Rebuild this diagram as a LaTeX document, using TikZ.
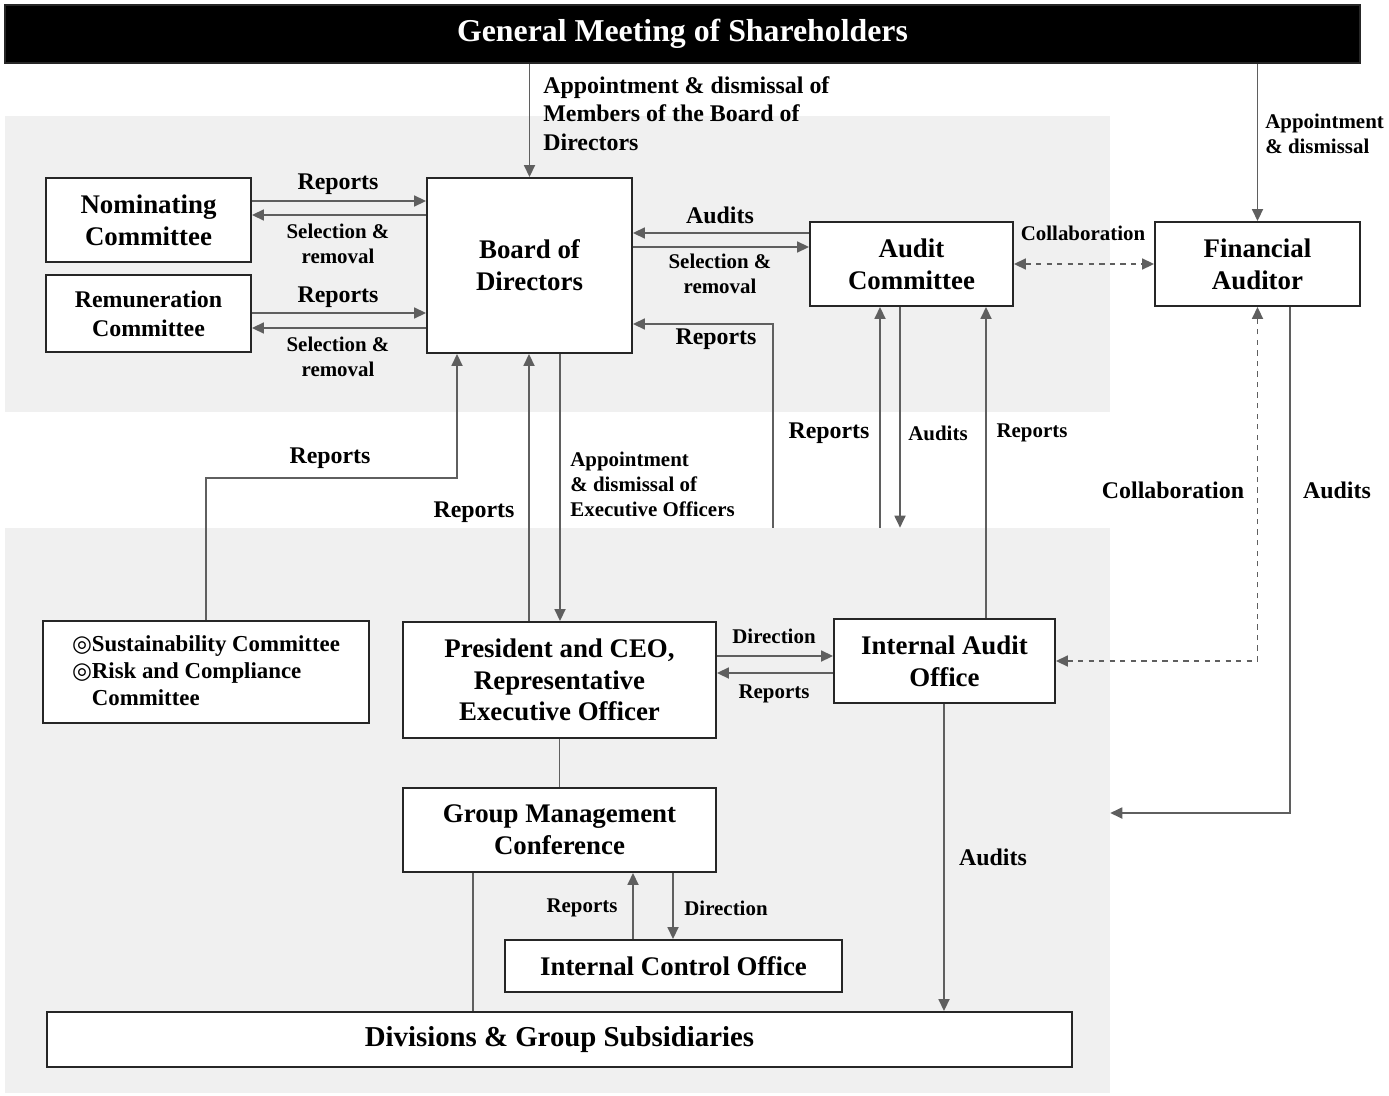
\documentclass[tikz,border=0pt]{standalone}
\usepackage{fontspec}
\setmainfont{Liberation Serif}
\newfontfamily\symfont{DejaVu Sans}
\usetikzlibrary{arrows.meta}
\definecolor{linegray}{HTML}{5F5F5F}
\definecolor{zonegray}{HTML}{F0F0F0}
\begin{document}
\begin{tikzpicture}[x=0.02cm, y=-0.02cm, >={Triangle[length=0.24cm,width=0.22cm]},
    box/.style={draw=black!85, line width=1.1pt, fill=white, align=center, inner sep=0pt,
      font=\bfseries\fontsize{15.3}{18.1}\selectfont},
    zone/.style={fill=zonegray, inner sep=0pt},
    link/.style={color=linegray, line width=1pt},
    lab/.style={inner sep=0pt, align=center, font=\bfseries\fontsize{13.6}{16.4}\selectfont},
    slab/.style={inner sep=0pt, align=center, font=\bfseries\fontsize{11.9}{14.2}\selectfont}]
    \useasboundingbox (0,0) rectangle (1389,1095);

    % shaded areas
    \node[zone, minimum width=22.1cm, minimum height=5.92cm] (upper) at (557.5,264) {};
    \node[zone, minimum width=22.1cm, minimum height=11.3cm] (lower) at (557.5,810.5) {};

    % boxes
    \node[box, fill=black, text=white, minimum width=27.1cm, minimum height=1.16cm,
      font=\bfseries\fontsize{18.1}{21}\selectfont] (gm) at (682.5,34) {General Meeting of Shareholders};
    \node[box, minimum width=4.1cm, minimum height=1.68cm] (nom) at (148.5,220) {Nominating\\Committee};
    \node[box, minimum width=4.1cm, minimum height=1.54cm,
      font=\bfseries\fontsize{13.6}{16.4}\selectfont] (rem) at (148.5,313.5) {Remuneration\\Committee};
    \node[box, minimum width=4.1cm, minimum height=3.5cm] (board) at (529.5,265.5) {Board of\\Directors};
    \node[box, minimum width=4.06cm, minimum height=1.68cm] (audit) at (911.5,264) {Audit\\Committee};
    \node[box, minimum width=4.1cm, minimum height=1.68cm] (fin) at (1257.5,264) {Financial\\Auditor};
    \node[box, align=left, minimum width=6.52cm, minimum height=2.04cm,
      font=\bfseries\fontsize{13}{15.6}\selectfont] (sus) at (206,672)
      {{\symfont ◎}Sustainability Committee\\{\symfont ◎}Risk and Compliance\\\phantom{\symfont ◎}Committee};
    \node[box, minimum width=6.26cm, minimum height=2.32cm] (pres) at (559.5,680)
      {President and CEO,\\Representative\\Executive Officer};
    \node[box, minimum width=4.42cm, minimum height=1.68cm] (iao) at (944.5,661) {Internal Audit\\Office};
    \node[box, minimum width=6.26cm, minimum height=1.68cm] (gmc) at (559.5,830) {Group Management\\Conference};
    \node[box, minimum width=6.74cm, minimum height=1.04cm] (ico) at (673.5,966) {Internal Control Office};
    \node[box, minimum width=20.5cm, minimum height=1.1cm,
      font=\bfseries\fontsize{16.4}{19}\selectfont] (div) at (559.5,1039.5) {Divisions \& Group Subsidiaries};

    % connectors
    \draw[link,->] (gm.south -| board) -- (board.north);
    \draw[link,->] (gm.south -| fin) -- (fin.north);
    \draw[link,->] (nom.east |- 0,201) -- (board.west |- 0,201);
    \draw[link,->] (board.west |- 0,215) -- (nom.east |- 0,215);
    \draw[link,->] (rem.east |- 0,313) -- (board.west |- 0,313);
    \draw[link,->] (board.west |- 0,328) -- (rem.east |- 0,328);
    \draw[link,->] (audit.west |- 0,233) -- (board.east |- 0,233);
    \draw[link,->] (board.east |- 0,247) -- (audit.west |- 0,247);
    \draw[link,<->,dashed] (audit.east) -- (fin.west);
    \draw[link,->] (773,0 |- lower.north) |- (board.east |- 0,324);
    \draw[link,->] (lower.north -| 880,0) -- (audit.south -| 880,0);
    \draw[link,->] (audit.south -| 900,0) -- (lower.north -| 900,0);
    \draw[link,->] (iao.north -| 986,0) -- (audit.south -| 986,0);
    \draw[link,<->,dashed] (iao.east) -| (fin.south);
    \draw[link,->] (fin.south -| 1290,0) |- (lower.east |- 0,813);
    \draw[link,->] (sus.north) |- (457,478) -- (board.south -| 457,0);
    \draw[link,->] (pres.north -| 529,0) -- (board.south -| 529,0);
    \draw[link,->] (board.south -| 560,0) -- (pres.north -| 560,0);
    \draw[link,->] (pres.east |- 0,656) -- (iao.west |- 0,656);
    \draw[link,->] (iao.west |- 0,673) -- (pres.east |- 0,673);
    \draw[link] (pres.south) -- (gmc.north);
    \draw[link] (gmc.south -| 473,0) -- (div.north -| 473,0);
    \draw[link,->] (ico.north -| 633,0) -- (gmc.south -| 633,0);
    \draw[link,->] (gmc.south -| 673,0) -- (ico.north -| 673,0);
    \draw[link,->] (iao.south -| 944,0) -- (div.north -| 944,0);

    % labels
    \node[lab, align=left, anchor=north west] (l-apbod) at (543,76)
      {Appointment \& dismissal of\\Members of the Board of\\Directors};
    \node[slab, align=left, anchor=north west] (l-apfin) at (1265,114) {Appointment\\\& dismissal};
    \node[lab] (l-rep1) at (338,184) {Reports};
    \node[slab] (l-sel1) at (338,244) {Selection \&\\removal};
    \node[lab] (l-rep2) at (338,297) {Reports};
    \node[slab] (l-sel2) at (338,357) {Selection \&\\removal};
    \node[lab] (l-aud1) at (720,215) {Audits};
    \node[slab] (l-sel3) at (720,274) {Selection \&\\removal};
    \node[slab] (l-col1) at (1083,233) {Collaboration};
    \node[lab] (l-rep3) at (716,339) {Reports};
    \node[lab] (l-rep4) at (829,433) {Reports};
    \node[slab] (l-aud2) at (938,433) {Audits};
    \node[slab] (l-rep5) at (1032,433) {Reports};
    \node[lab] (l-col2) at (1173,490) {Collaboration};
    \node[lab] (l-aud3) at (1337,490) {Audits};
    \node[lab] (l-rep6) at (330,458) {Reports};
    \node[lab] (l-rep7) at (474,512) {Reports};
    \node[slab, align=left, anchor=north west] (l-apexe) at (570,452)
      {Appointment\\\& dismissal of\\Executive Officers};
    \node[slab] (l-dir1) at (774,636) {Direction};
    \node[slab] (l-rep8) at (774,694) {Reports};
    \node[slab] (l-rep9) at (582,908) {Reports};
    \node[slab] (l-dir2) at (726,908) {Direction};
    \node[lab] (l-aud4) at (993,857) {Audits};
  \end{tikzpicture}
\end{document}
